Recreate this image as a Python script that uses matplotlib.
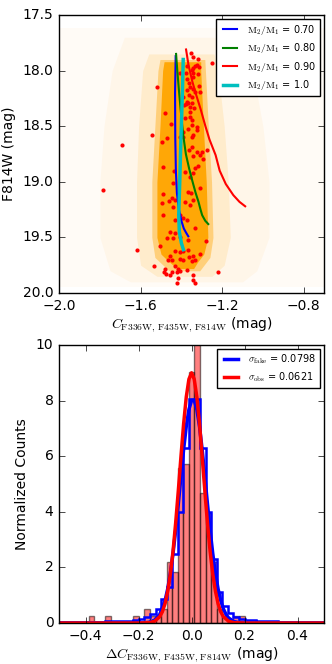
import numpy as np
import matplotlib
matplotlib.use('Agg')
import matplotlib.pyplot as plt

plt.style.use('classic')
plt.rcParams['mathtext.fontset'] = 'cm'
plt.rcParams['font.size'] = 10

# --- верхняя панель: диаграмма цвет-величина
# облако искусственных звёзд: границы слоёв разной плотности
core_mag = [17.92, 18.0, 18.5, 19.0, 19.5, 19.65, 19.72, 19.78]
core_left = [-1.485, -1.492, -1.505, -1.52, -1.52, -1.50, -1.46, -1.42]
core_right = [-1.305, -1.305, -1.292, -1.278, -1.27, -1.29, -1.32, -1.34]

near_mag = [17.90, 18.0, 18.5, 19.0, 19.5, 19.68, 19.80]
near_left = [-1.505, -1.515, -1.53, -1.545, -1.545, -1.53, -1.46]
near_right = [-1.285, -1.282, -1.268, -1.252, -1.245, -1.26, -1.31]

inner_mag = [17.85, 18.0, 18.5, 19.0, 19.5, 19.75, 19.85]
inner_left = [-1.56, -1.59, -1.61, -1.62, -1.62, -1.60, -1.52]
inner_right = [-1.24, -1.22, -1.19, -1.17, -1.16, -1.19, -1.25]

mid_mag = [17.7, 18.0, 18.5, 19.0, 19.5, 19.8, 19.9]
mid_left = [-1.68, -1.74, -1.78, -1.80, -1.80, -1.75, -1.65]
mid_right = [-1.12, -1.05, -1.00, -0.97, -0.97, -1.03, -1.10]

far_mag = [17.62, 19.95]
far_left = [-2.0, -2.0]
far_right = [-0.7, -0.7]

# наблюдаемые звёзды
obs_color = [-1.353, -1.342, -1.320, -1.335, -1.325, -1.371, -1.315, -1.350, -1.342, -1.407,
             -1.377, -1.345, -1.342, -1.317, -1.374, -1.361, -1.358, -1.342, -1.371, -1.333,
             -1.312, -1.309, -1.518, -1.361, -1.350, -1.391, -1.374, -1.366, -1.377, -1.350,
             -1.386, -1.358, -1.337, -1.358, -1.482, -1.358, -1.350, -1.382, -1.453, -1.350,
             -1.325, -1.366, -1.391, -1.325, -1.342, -1.469, -1.407, -1.391, -1.348, -1.546,
             -1.252, -1.219,
             -1.497, -1.350, -1.361, -1.325, -1.301, -1.276, -1.309, -1.342, -1.296, -1.489,
             -1.317, -1.333, -1.436, -1.382, -1.342, -1.358, -1.443, -1.309, -1.489, -1.366,
             -1.353, -1.448, -1.431, -1.345, -1.382, -1.459, -1.497, -1.358, -1.489, -1.407,
             -1.391, -1.440,
             -1.431, -1.374, -1.333, -1.456, -1.431, -1.472, -1.440, -1.407, -1.366, -1.279,
             -1.505, -1.616, -1.391, -1.366, -1.431, -1.407, -1.456, -1.464, -1.448, -1.407,
             -1.391, -1.361, -1.345, -1.333, -1.309, -1.350, -1.534, -1.480, -1.431, -1.415,
             -1.374, -1.484, -1.448, -1.476, -1.456, -1.423, -1.407, -1.415, -1.345, -1.342,
             -1.423, -1.333, -1.219,
             -1.693, -1.786]
obs_mag = [17.844, 17.880, 17.898, 17.958, 17.949, 17.958, 17.964, 17.994, 17.979, 18.024,
           18.024, 18.024, 18.054, 18.030, 18.078, 18.114, 18.150, 18.168, 18.174, 18.189,
           18.138, 18.189, 18.144, 18.219, 18.234, 18.234, 18.279, 18.294, 18.302, 18.294,
           18.308, 18.324, 18.338, 18.368, 18.383, 18.413, 18.443, 18.428, 18.479, 18.488,
           18.503, 18.527, 18.548, 18.533, 18.578, 18.608, 18.599, 18.599, 18.599, 18.578,
           17.928, 17.979,
           18.644, 18.683, 18.713, 18.728, 18.728, 18.713, 18.758, 18.764, 18.794, 18.871,
           18.862, 18.877, 18.901, 18.913, 18.922, 18.961, 19.012, 19.057, 19.111, 19.093,
           19.102, 19.147, 19.162, 19.162, 19.177, 19.171, 19.192, 19.207, 19.297, 19.297,
           19.326, 19.222,
           19.342, 19.342, 19.417, 19.447, 19.462, 19.501, 19.501, 19.492, 19.522, 19.531,
           19.581, 19.611, 19.626, 19.611, 19.626, 19.632, 19.671, 19.701, 19.701, 19.692,
           19.701, 19.680, 19.671, 19.701, 19.650, 19.710, 19.761, 19.782, 19.761, 19.782,
           19.791, 19.812, 19.812, 19.830, 19.842, 19.812, 19.806, 19.866, 19.842, 19.881,
           19.911, 19.911, 19.812,
           18.67, 19.07]

# модельные последовательности двойных
q70_mag = [17.87, 18.2, 18.6, 18.9, 19.1, 19.25, 19.35, 19.42, 19.46, 19.49]
q70_color = [-1.428, -1.431, -1.430, -1.427, -1.422, -1.412, -1.400, -1.388, -1.376, -1.366]
q80_mag = [17.85, 18.0, 18.2, 18.4, 18.58, 18.75, 18.88, 19.0, 19.1, 19.18, 19.25, 19.30, 19.35, 19.38]
q80_color = [-1.426, -1.420, -1.411, -1.401, -1.391, -1.378, -1.362, -1.345, -1.330, -1.316,
             -1.306, -1.298, -1.283, -1.268]
q90_mag = [17.81, 17.95, 18.1, 18.22, 18.35, 18.5, 18.62, 18.76, 18.9, 19.02, 19.12, 19.18, 19.22]
q90_color = [-1.377, -1.365, -1.346, -1.327, -1.305, -1.282, -1.262, -1.232, -1.212, -1.182,
             -1.145, -1.115, -1.087]
q100_mag = [17.90, 18.2, 18.6, 19.0, 19.3, 19.45, 19.55, 19.61]
q100_color = [-1.391, -1.395, -1.402, -1.408, -1.413, -1.410, -1.400, -1.390]

# --- нижняя панель: гистограммы
bin0 = -0.388
bin_w = 0.021
obs_counts = [0.25, 0, 0, 0.25, 0, 0, 0, 0, 0.25, 0, 0.52, 0.25, 0.25, 0.5,
              2.2, 1.83, 5.57, 5.72, 9.04, 10.2, 4.67, 3.95, 2.2, 0.5, 0.25, 0, 0.25, 0.25]
fake_bin0 = -0.514
fake_counts = [0.02, 0.02, 0.03, 0.03, 0.03, 0.04,
               0.04, 0.05, 0.05, 0.06, 0.06, 0.07, 0.08, 0.09,
               0.10, 0.14, 0.22, 0.33, 0.50, 0.85, 1.30, 2.50, 3.98, 6.29,
               8.05, 8.05, 6.29, 3.98, 2.30, 1.10, 0.60, 0.35, 0.22, 0.15,
               0.12, 0.10, 0.08, 0.07, 0.06, 0.06, 0.05, 0.05, 0.04, 0.04,
               0.04, 0.03, 0.03, 0.03, 0.02]

# аппроксимирующие кривые
fake_fit_x = [-0.50, -0.25, -0.20, -0.18, -0.16, -0.14, -0.12, -0.10, -0.09, -0.08, -0.07,
              -0.06, -0.05, -0.04, -0.03, -0.02, -0.01, 0.00, 0.01, 0.02, 0.03, 0.04, 0.05,
              0.06, 0.07, 0.08, 0.09, 0.10, 0.11, 0.12, 0.13, 0.14, 0.16, 0.18, 0.20, 0.25, 0.50]
fake_fit_y = [0.0, 0.0, 0.0, 0.006, 0.028, 0.10, 0.31, 0.81, 1.23, 1.79, 2.50,
              3.34, 4.29, 5.28, 6.24, 7.07, 7.68, 8.01, 8.01, 7.68, 7.07, 6.24, 5.28,
              4.29, 3.34, 2.50, 1.79, 1.23, 0.81, 0.51, 0.31, 0.18, 0.054, 0.014, 0.003, 0.0, 0.0]
obs_fit_x = [-0.50, -0.20, -0.16, -0.14, -0.12, -0.11, -0.10, -0.09, -0.08, -0.07, -0.06,
             -0.05, -0.04, -0.03, -0.02, -0.01, 0.00, 0.01, 0.02, 0.03, 0.04, 0.05, 0.06,
             0.07, 0.08, 0.09, 0.10, 0.11, 0.12, 0.14, 0.16, 0.20, 0.50]
obs_fit_y = [0.0, 0.0, 0.013, 0.061, 0.23, 0.41, 0.70, 1.15, 1.76, 2.58, 3.60,
             4.76, 5.99, 7.16, 8.13, 8.77, 9.0, 8.77, 8.13, 7.16, 5.99, 4.76, 3.60,
             2.58, 1.76, 1.15, 0.70, 0.41, 0.23, 0.061, 0.013, 0.0, 0.0]

orange = '#FFA500'

fig = plt.figure(figsize=(3.32, 6.64), dpi=100)
fig.patch.set_facecolor('white')

ax1 = fig.add_axes([0.178, 0.5587, 0.798, 0.4187])
ax1.fill_betweenx(far_mag, far_left, far_right, color=orange, alpha=0.035, lw=0)
ax1.fill_betweenx(mid_mag, mid_left, mid_right, color=orange, alpha=0.05, lw=0)
ax1.fill_betweenx(inner_mag, inner_left, inner_right, color=orange, alpha=0.12, lw=0)
ax1.fill_betweenx(near_mag, near_left, near_right, color=orange, alpha=0.4, lw=0)
ax1.fill_betweenx(core_mag, core_left, core_right, color=orange, alpha=0.95, lw=0)
ax1.plot(obs_color, obs_mag, 'o', color='r', mec='none', ms=3)
ax1.plot(q70_color, q70_mag, color='b', lw=1.5, label=r'$\mathrm{M_2/M_1}$ = 0.70')
ax1.plot(q80_color, q80_mag, color='g', lw=1.5, label=r'$\mathrm{M_2/M_1}$ = 0.80')
ax1.plot(q90_color, q90_mag, color='r', lw=1.5, label=r'$\mathrm{M_2/M_1}$ = 0.90')
ax1.plot(q100_color, q100_mag, color='c', lw=2.5, label=r'$\mathrm{M_2/M_1}$ = 1.0')
ax1.set_xlim(-2.0, -0.7)
ax1.set_ylim(20.0, 17.5)
ax1.set_xticks([-2.0, -1.6, -1.2, -0.8])
ax1.set_yticks([17.5, 18.0, 18.5, 19.0, 19.5, 20.0])
ax1.set_xlabel(r'$C_{\rm F336W,\,F435W,\,F814W}$ (mag)', labelpad=2)
ax1.set_ylabel('F814W (mag)')
ax1.legend(loc='upper right', fontsize=7, handlelength=2.0, labelspacing=0.45,
           borderaxespad=0.4, numpoints=2)

ax2 = fig.add_axes([0.178, 0.0617, 0.798, 0.4187])
edges = bin0 + bin_w * np.arange(len(obs_counts) + 1)
ax2.bar(edges[:-1], obs_counts, width=bin_w, align='edge', color='r', alpha=0.5,
        edgecolor='k', lw=1)
fake_edges = fake_bin0 + bin_w * np.arange(len(fake_counts) + 1)
ax2.stairs(fake_counts, fake_edges, color='b', lw=1.8, baseline=None)
ax2.plot(fake_fit_x, fake_fit_y, color='b', lw=2.5, label=r'$\sigma_{\rm fake}$ = 0.0798')
ax2.plot(obs_fit_x, obs_fit_y, color='r', lw=2.5, label=r'$\sigma_{\rm obs}$ = 0.0621')
ax2.set_xlim(-0.5, 0.5)
ax2.set_ylim(0, 10)
ax2.set_xticks([-0.4, -0.2, 0.0, 0.2, 0.4])
ax2.set_yticks([0, 2, 4, 6, 8, 10])
ax2.set_xlabel(r'$\Delta C_{\rm F336W,\,F435W,\,F814W}$ (mag)', labelpad=2)
ax2.set_ylabel('Normalized Counts')
ax2.legend(loc='upper right', fontsize=7, handlelength=2.0, labelspacing=0.45,
           borderaxespad=0.4, numpoints=2)

fig.savefig('out.png', dpi=100, facecolor='white')
